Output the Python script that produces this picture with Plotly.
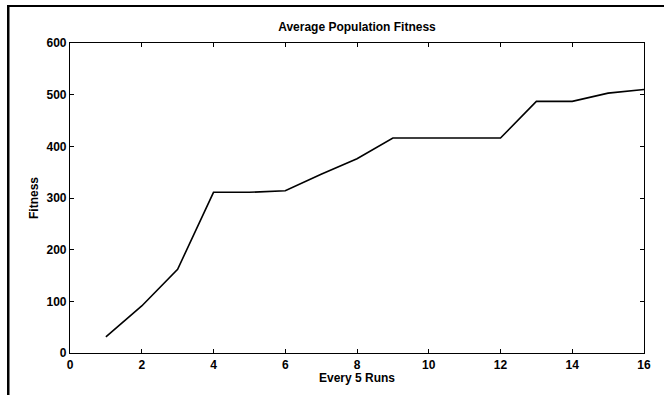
import plotly.graph_objects as go

runs = list(range(1, 17))
fitness = [31, 91, 162, 311, 311, 314, 346, 376, 416, 416, 416, 416, 487, 487, 503, 510]
x_ticks = [0, 2, 4, 6, 8, 10, 12, 14, 16]
y_ticks = [0, 100, 200, 300, 400, 500, 600]

fig = go.Figure()
fig.add_trace(go.Scatter(x=runs, y=fitness, mode="lines",
                         line=dict(color="black", width=1.6), showlegend=False))

W, H = 664, 395
L, R, T, B = 70, 20, 43, 42
pw, ph = W - L - R, H - T - B

font = dict(family="Liberation Sans, Arial, sans-serif", size=12, color="black", weight="bold")

fig.update_layout(
    width=W, height=H,
    margin=dict(l=L, r=R, t=T, b=B),
    paper_bgcolor="white", plot_bgcolor="white",
    font=font,
    title=dict(text="Average Population Fitness", x=(L + pw / 2) / W, xanchor="center",
               y=1 - 27 / H, yanchor="middle",
               font=dict(family="Liberation Sans, Arial, sans-serif", size=12, color="black", weight="bold")),
    xaxis=dict(range=[0, 16], tickvals=x_ticks, ticks="inside", ticklen=4, tickcolor="black",
               showline=True, linecolor="black", linewidth=1.2, mirror="ticks",
               showgrid=False, zeroline=False,
               title=dict(text="Every 5 Runs", standoff=1, font=font),
               tickfont=font),
    yaxis=dict(range=[0, 600], tickvals=y_ticks, ticks="inside", ticklen=4, tickcolor="black",
               showline=True, linecolor="black", linewidth=1.2, mirror="ticks",
               showgrid=False, zeroline=False,
               title=dict(text="Fitness", standoff=5, font=font),
               tickfont=font),
)

# scanned page frame: left edge
def px_x(p):
    return (p - L) / pw

def px_y(p):
    return (H - B - p) / ph

fig.add_shape(type="rect", xref="paper", yref="paper",
              x0=px_x(7), x1=px_x(9.5), y0=px_y(H), y1=px_y(5),
              fillcolor="black", line=dict(width=0))

post = (
    "document.body.style.margin='0';document.body.style.overflow='hidden';"
    "var d=document.createElement('div');"
    "d.style.cssText='position:absolute;left:7px;top:5px;width:657px;height:2px;background:#000;z-index:10;pointer-events:none';"
    "document.body.appendChild(d);"
)
fig.write_html("out.html", config={"displayModeBar": False}, post_script=post)
